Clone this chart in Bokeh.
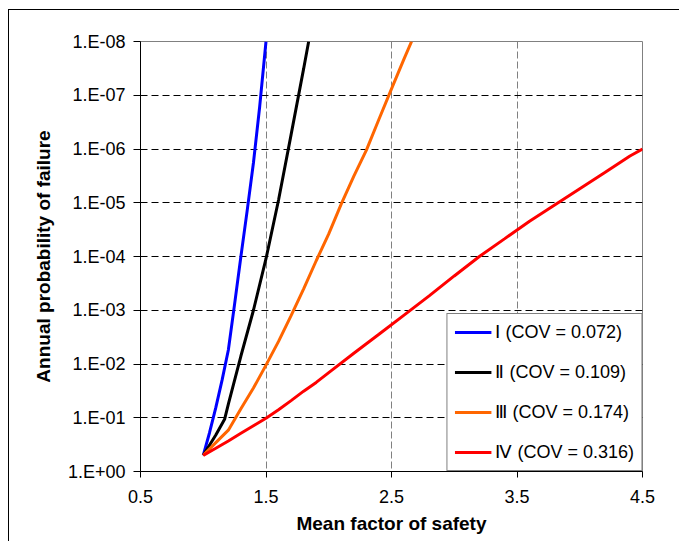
from bokeh.plotting import figure
from bokeh.models import Range1d, FixedTicker, CustomJSTickFormatter, Legend, LegendItem
from bokeh.embed import file_html
from bokeh.resources import INLINE

# Mean factor of safety (x) and annual probability of failure (y)
fs_I = [1.0, 1.05, 1.1, 1.15, 1.2, 1.25, 1.3, 1.35, 1.4, 1.45, 1.5]
pf_I = [0.5, 0.19, 0.065, 0.02, 5.5e-3, 7.6e-4, 1.0e-4, 1.4e-5, 1.8e-6, 1.6e-7, 1.0e-8]

fs_II = [1.0, 1.1, 1.17, 1.2, 1.3, 1.4, 1.5, 1.6, 1.7, 1.8, 1.84]
pf_II = [0.5, 0.21, 0.107, 0.056, 7.1e-3, 1.0e-3, 1.1e-4, 8.9e-6, 5.4e-7, 3.2e-8, 1.0e-8]

fs_III = [1.0, 1.1, 1.2, 1.3, 1.4, 1.5, 1.6, 1.7, 1.8, 1.9, 2.0, 2.1, 2.2, 2.3, 2.4, 2.5, 2.6, 2.66]
pf_III = [0.5, 0.29, 0.17, 0.068, 0.028, 0.0105, 3.8e-3, 1.26e-3, 4.0e-4, 1.2e-4, 3.8e-5,
          1.05e-5, 3.2e-6, 1.05e-6, 2.8e-7, 7.6e-8, 2.1e-8, 1.0e-8]

fs_IV = [1.0, 1.1, 1.2, 1.3, 1.4, 1.5, 1.6, 1.7, 1.8, 1.9, 2.0, 2.2, 2.4, 2.6, 2.8, 3.0,
         3.2, 3.4, 3.6, 3.8, 4.0, 4.2, 4.4, 4.5]
pf_IV = [0.5, 0.37, 0.27, 0.195, 0.141, 0.102, 0.071, 0.048, 0.032, 0.022, 0.0145, 6.3e-3,
         2.8e-3, 1.23e-3, 5.4e-4, 2.3e-4, 1.0e-4, 4.7e-5, 2.2e-5, 1.1e-5, 5.5e-6, 2.75e-6,
         1.35e-6, 1.0e-6]

series_labels = ["Ⅰ (COV = 0.072)", "Ⅱ (COV = 0.109)", "Ⅲ (COV = 0.174)", "Ⅳ (COV = 0.316)"]
series_colors = ["#0000FF", "#000000", "#FF6600", "#FF0000"]

x_ticks = [0.5, 1.5, 2.5, 3.5, 4.5]
y_ticks = [1e-8, 1e-7, 1e-6, 1e-5, 1e-4, 1e-3, 1e-2, 1e-1, 1.0]

FONT = "Liberation Sans"

p = figure(frame_width=502, frame_height=430,
           min_border_left=131, min_border_right=37, min_border_top=31, min_border_bottom=70,
           x_range=Range1d(0.5, 4.5), y_range=Range1d(1.0, 1e-8), y_axis_type="log",
           output_backend="svg", toolbar_location=None,
           background_fill_color="white", border_fill_color="white")
p.styles = {"border-left": "1px solid #000000", "border-top": "1px solid #000000",
            "margin-left": "8px", "margin-top": "9px"}

p.outline_line_color = "#808080"
p.outline_line_width = 1

# grids
p.xgrid.ticker = FixedTicker(ticks=x_ticks)
p.xgrid.grid_line_color = "#808080"
p.xgrid.grid_line_dash = "7 3"
p.xgrid.grid_line_width = 1
p.ygrid.ticker = FixedTicker(ticks=y_ticks)
p.ygrid.grid_line_color = "#000000"
p.ygrid.grid_line_dash = "7 4"
p.ygrid.grid_line_width = 1

# axes
p.xaxis.ticker = FixedTicker(ticks=x_ticks)
p.yaxis.ticker = FixedTicker(ticks=y_ticks)
p.yaxis.formatter = CustomJSTickFormatter(code="""
const e = Math.round(Math.log10(tick));
return '1.E' + (e < 0 ? '-' : '+') + String(Math.abs(e)).padStart(2, '0');
""")
for ax in (p.xaxis, p.yaxis):
    ax.axis_line_color = "#000000"
    ax.axis_line_width = 1
    ax.major_tick_line_color = "#000000"
    ax.major_tick_in = 0
    ax.minor_tick_line_color = None
    ax.major_label_text_font = FONT
    ax.major_label_text_font_size = "18px"
    ax.major_label_text_color = "#000000"
    ax.axis_label_text_font = FONT
    ax.axis_label_text_font_size = "19px"
    ax.axis_label_text_font_style = "bold"
    ax.axis_label_text_color = "#000000"

p.xaxis.major_tick_out = 6
p.xaxis.major_label_standoff = 12
p.xaxis.axis_label = "Mean factor of safety"
p.xaxis.axis_label_standoff = 7
p.yaxis.major_tick_out = 7
p.yaxis.major_label_standoff = 8
p.yaxis.axis_label = "Annual probability of failure"
p.yaxis.axis_label_standoff = 11

renderers = []
for xs, ys, c in [(fs_I, pf_I, series_colors[0]), (fs_II, pf_II, series_colors[1]),
                  (fs_III, pf_III, series_colors[2]), (fs_IV, pf_IV, series_colors[3])]:
    r = p.line(xs, ys, line_color=c, line_width=3)
    renderers.append(r)

legend = Legend(items=[LegendItem(label=lab, renderers=[r]) for lab, r in zip(series_labels, renderers)],
                location="bottom_right", margin=0, padding=7, spacing=18,
                glyph_width=37, glyph_height=20, label_height=20, label_standoff=4,
                label_text_font=FONT, label_text_font_size="18px", label_text_color="#000000",
                border_line_color="#000000", border_line_width=1,
                background_fill_color="white", background_fill_alpha=1.0)
p.add_layout(legend)

open("out.html", "w").write(file_html(p, INLINE))
